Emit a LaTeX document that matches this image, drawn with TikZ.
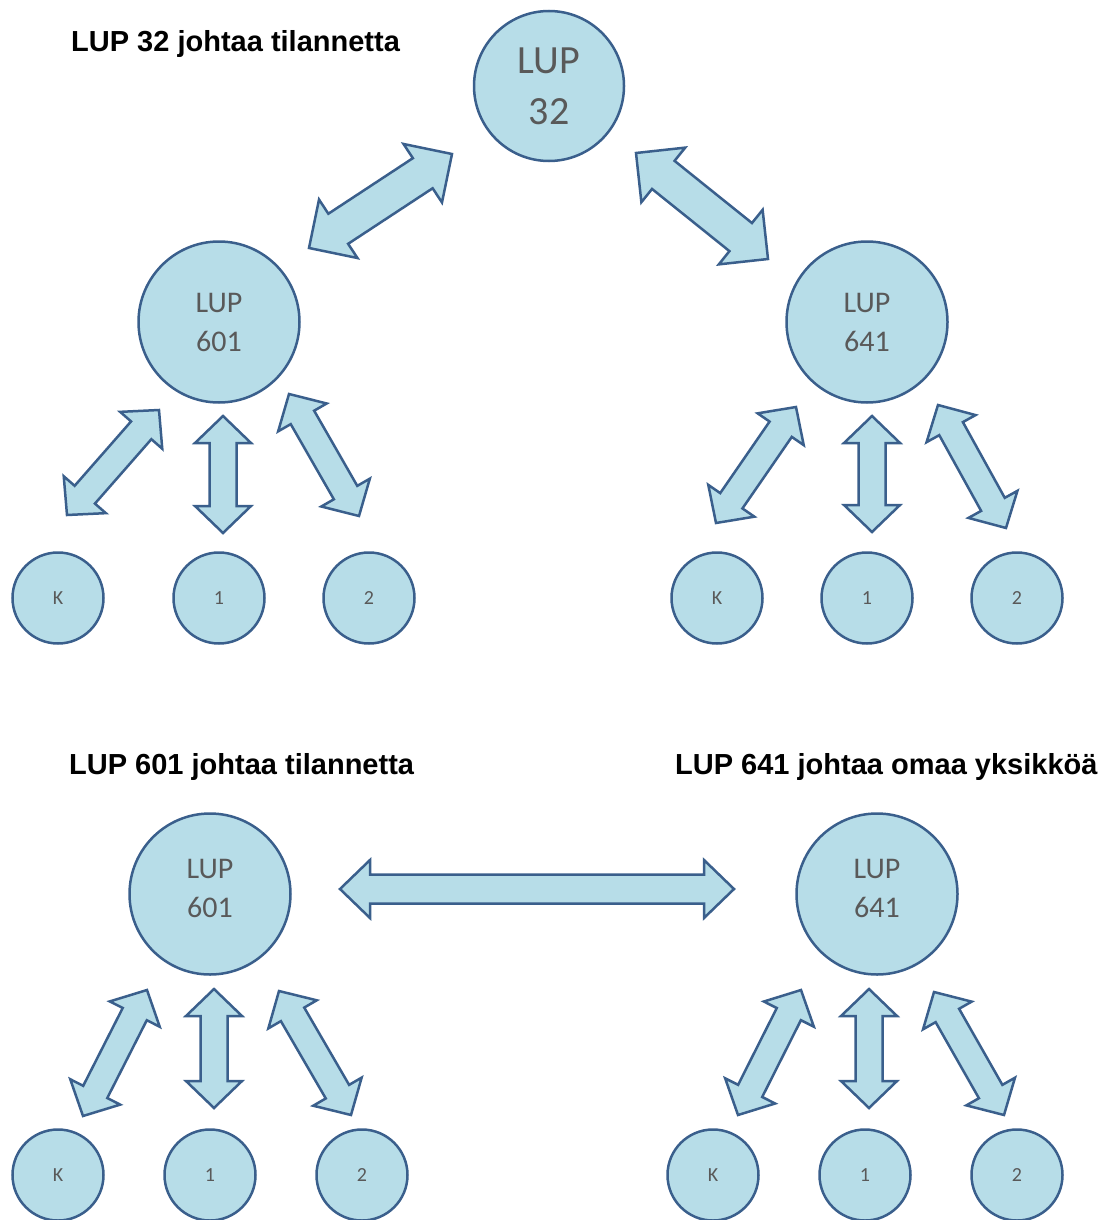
\documentclass[tikz,border=0pt]{standalone}
\usepackage{fontspec}
\setmainfont{Carlito}
\newfontfamily\titlefont{Liberation Sans}
\usetikzlibrary{calc}
\definecolor{fillblue}{HTML}{B7DDE8}
\definecolor{lineblue}{HTML}{3A5F8C}
\definecolor{txtgray}{HTML}{595959}

% Block double arrow between two named coordinates:
% #1,#2 tips; #3 head half-width; #4 head length; #5 shaft half-width (all pt)
\newcommand\dblarrow[5]{%
  \draw[blk] let \p1=(#1), \p2=(#2),
      \n1={atan2(\y2-\y1,\x2-\x1)}, \n2={\n1+90}, \n3={\n1+180} in
    (\p1)
    -- ($(\p1)+(\n1:#4pt)+(\n2:#3pt)$)
    -- ($(\p1)+(\n1:#4pt)+(\n2:#5pt)$)
    -- ($(\p2)+(\n3:#4pt)+(\n2:#5pt)$)
    -- ($(\p2)+(\n3:#4pt)+(\n2:#3pt)$)
    -- (\p2)
    -- ($(\p2)+(\n3:#4pt)+(\n2:-#3pt)$)
    -- ($(\p2)+(\n3:#4pt)+(\n2:-#5pt)$)
    -- ($(\p1)+(\n1:#4pt)+(\n2:-#5pt)$)
    -- ($(\p1)+(\n1:#4pt)+(\n2:-#3pt)$)
    -- cycle;}
\newcommand\smallarrow[2]{\dblarrow{#1}{#2}{28}{27}{13.5}}

\begin{document}
\begin{tikzpicture}[x=1pt,y=-1pt,
  unit/.style={circle, draw=lineblue, fill=fillblue, line width=2.5pt,
    inner sep=0pt, text=txtgray, align=center},
  big/.style={unit, minimum size=150pt, font=\fontsize{40}{51}\selectfont},
  mid/.style={unit, minimum size=161pt, font=\fontsize{30}{39}\selectfont},
  small/.style={unit, minimum size=91pt, font=\fontsize{20}{23}\selectfont},
  midlabel/.style={align=center, text=txtgray, inner sep=0pt,
    font=\fontsize{30}{39}\selectfont},
  title/.style={anchor=base west, inner sep=0pt,
    font=\titlefont\bfseries\fontsize{29}{34}\selectfont},
  blk/.style={draw=lineblue, fill=fillblue, line width=2.5pt, line join=miter}]

\useasboundingbox (0,0) rectangle (1108,1220);

% ---- titles
\node[title] (t1) at (71,52) {LUP 32 johtaa tilannetta};
\node[title] (t2) at (69,774) {LUP 601 johtaa tilannetta};
\node[title] (t3) at (675,774) {LUP 641 johtaa omaa yksikköä};

% ---- upper hierarchy
\node[big] (top) at (549,86) {LUP\\32};
\node[mid] (ul) at (219,322) {LUP\\601};
\node[mid] (ur) at (867,322) {LUP\\641};
\node[small] (ulk) at (58,598) {K};
\node[small] (ul1) at (219,598) {1};
\node[small] (ul2) at (369,598) {2};
\node[small] (urk) at (717,598) {K};
\node[small] (ur1) at (867,598) {1};
\node[small] (ur2) at (1017,598) {2};

% ---- lower pair (labels sit a little above centre)
\node[mid, label={[midlabel, yshift=6pt]center:{LUP\\601}}] (ll) at (210,894) {};
\node[mid, label={[midlabel, yshift=6pt]center:{LUP\\641}}] (lr) at (877,894) {};
\node[small] (llk) at (58,1175) {K};
\node[small] (ll1) at (210,1175) {1};
\node[small] (ll2) at (362,1175) {2};
\node[small] (lrk) at (713,1175) {K};
\node[small] (lr1) at (865,1175) {1};
\node[small] (lr2) at (1017,1175) {2};

% ---- arrow tips
\coordinate (a1) at (309,248);  \coordinate (b1) at (452,154);
\coordinate (a2) at (636,153);  \coordinate (b2) at (768,259);
\coordinate (a3) at (67,515);   \coordinate (b3) at (159,410);
\coordinate (a4) at (223,416);  \coordinate (b4) at (223,533);
\coordinate (a5) at (289,394);  \coordinate (b5) at (359,516);
\coordinate (a6) at (716,523);  \coordinate (b6) at (796,407);
\coordinate (a7) at (872,416);  \coordinate (b7) at (872,532);
\coordinate (a8) at (938,405);  \coordinate (b8) at (1006,528);
\coordinate (a9) at (83,1116);  \coordinate (b9) at (147,990);
\coordinate (a10) at (214,989); \coordinate (b10) at (214,1108);
\coordinate (a11) at (279,991); \coordinate (b11) at (351,1115);
\coordinate (a12) at (738,1115);\coordinate (b12) at (801,990);
\coordinate (a13) at (869,989); \coordinate (b13) at (869,1108);
\coordinate (a14) at (934,992); \coordinate (b14) at (1004,1115);
\coordinate (a15) at (340,889); \coordinate (b15) at (734,889);

% ---- arrows
\dblarrow{a1}{b1}{35}{35}{18}
\dblarrow{a2}{b2}{35}{35}{18}
\smallarrow{a3}{b3}
\smallarrow{a4}{b4}
\smallarrow{a5}{b5}
\smallarrow{a6}{b6}
\smallarrow{a7}{b7}
\smallarrow{a8}{b8}
\smallarrow{a9}{b9}
\smallarrow{a10}{b10}
\smallarrow{a11}{b11}
\smallarrow{a12}{b12}
\smallarrow{a13}{b13}
\smallarrow{a14}{b14}
\dblarrow{a15}{b15}{29}{30}{14.5}

\end{tikzpicture}
\end{document}
